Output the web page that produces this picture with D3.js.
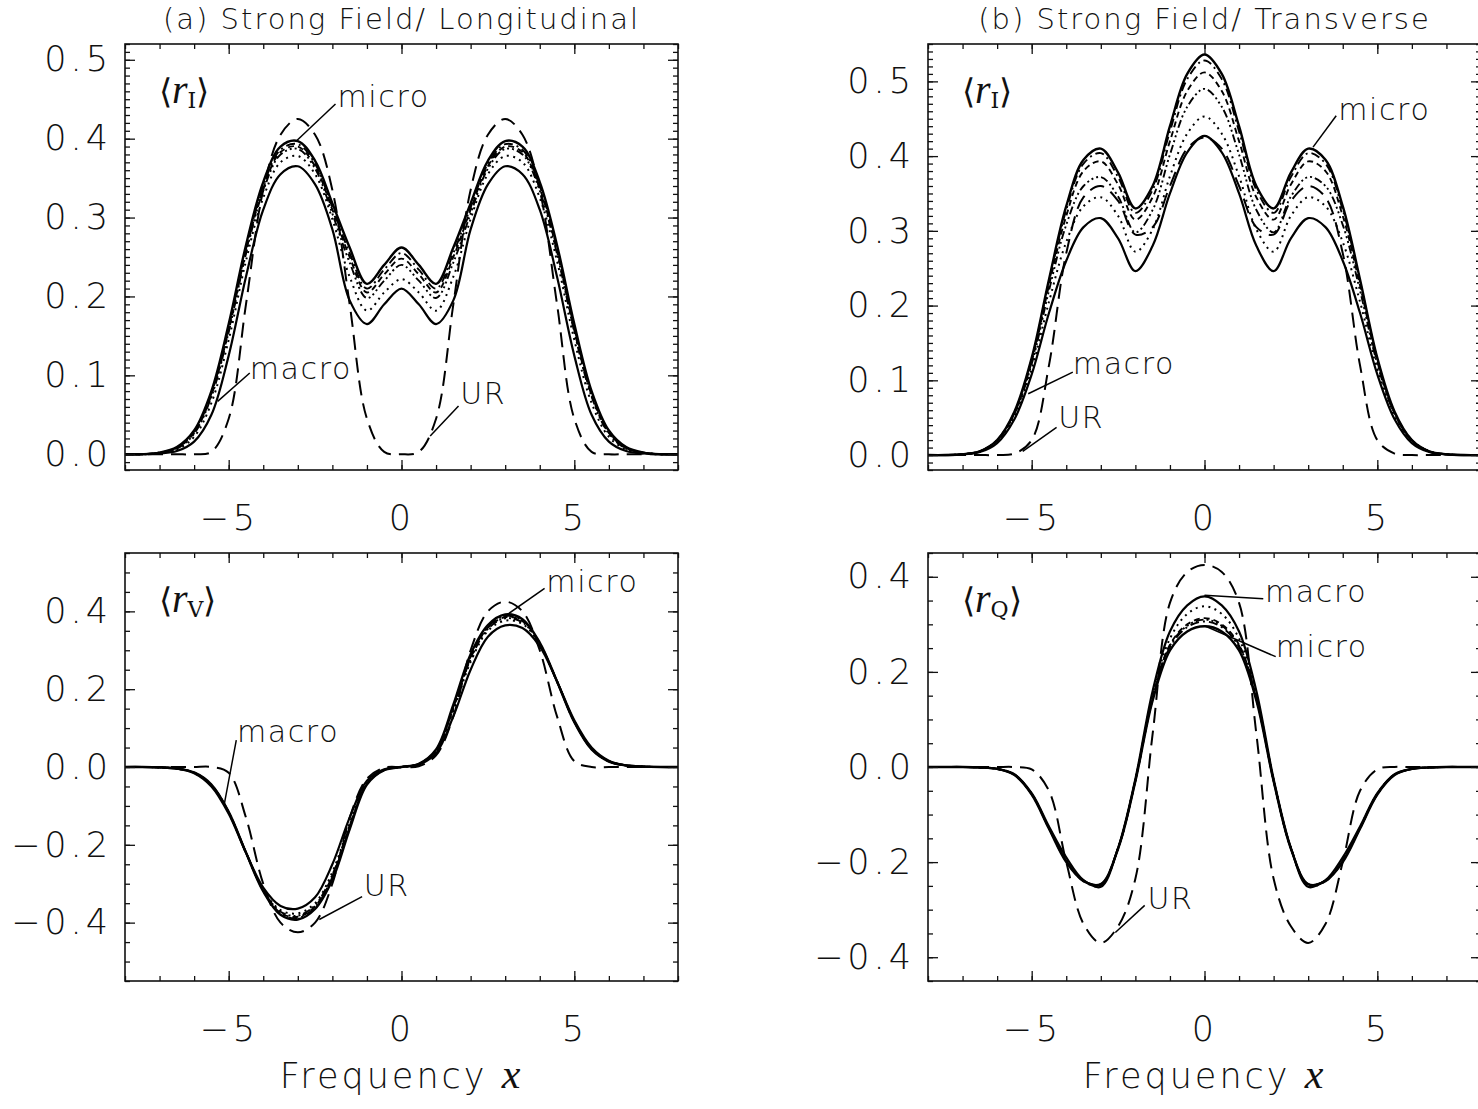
<!DOCTYPE html>
<html>
<head>
<meta charset="utf-8">
<script src="https://cdn.jsdelivr.net/npm/d3@7"></script>
<style>
  body { margin: 0; background: #fff; }
  svg { display: block; }
  .tick text { font-family: "DejaVu Sans", sans-serif; font-weight: 200; font-size: 35px; letter-spacing: 4px; fill: #111; }
  .tick line { stroke: #111; stroke-width: 1.3; }
  .frame { fill: none; stroke: #111; stroke-width: 1.6; }
  .title { font-family: "DejaVu Sans", sans-serif; font-weight: 200; font-size: 29px; letter-spacing: 2px; fill: #111; }
  .note { font-family: "DejaVu Sans", sans-serif; font-weight: 200; font-size: 30px; letter-spacing: 1.6px; fill: #111; }
  .xlab { font-family: "DejaVu Sans", sans-serif; font-weight: 200; font-size: 35px; letter-spacing: 3px; fill: #111; }
</style>
</head>
<body>
<div id="container"></div>
<script>
// frequency grid x
var freq = [-8,-7.5,-7,-6.5,-6,-5.5,-5,-4.5,-4,-3.5,-3,-2.5,-2,-1.5,-1,-0.5,0,0.5,1,1.5,2,2.5,3,3.5,4,4.5,5,5.5,6,6.5,7,7.5,8];

// (a) Strong field / longitudinal, <r_I>
var aUR       = [0,0,0,0,0,0.003,0.045,0.19,0.335,0.405,0.425,0.405,0.335,0.19,0.045,0.003,0,0.003,0.045,0.19,0.335,0.405,0.425,0.405,0.335,0.19,0.045,0.003,0,0,0,0,0];
var aMicro    = [0,0,0.002,0.009,0.03,0.08,0.165,0.265,0.345,0.39,0.397,0.372,0.318,0.262,0.216,0.24,0.262,0.24,0.216,0.262,0.318,0.372,0.397,0.39,0.345,0.265,0.165,0.08,0.03,0.009,0.002,0,0];
var aMacro    = [0,0,0.001,0.004,0.016,0.05,0.125,0.225,0.31,0.355,0.365,0.342,0.285,0.195,0.165,0.19,0.21,0.19,0.165,0.195,0.285,0.342,0.365,0.355,0.31,0.225,0.125,0.05,0.016,0.004,0.001,0,0];
var aDot      = [0,0,0.001,0.006,0.022,0.065,0.145,0.245,0.325,0.37,0.378,0.355,0.298,0.225,0.182,0.205,0.222,0.205,0.182,0.225,0.298,0.355,0.378,0.37,0.325,0.245,0.145,0.065,0.022,0.006,0.001,0,0];
var aDashDot  = [0,0,0.002,0.008,0.028,0.077,0.16,0.26,0.34,0.386,0.393,0.368,0.313,0.255,0.21,0.234,0.255,0.234,0.21,0.255,0.313,0.368,0.393,0.386,0.34,0.26,0.16,0.077,0.028,0.008,0.002,0,0];
var aDash     = [0,0,0.002,0.008,0.027,0.075,0.157,0.257,0.337,0.383,0.39,0.365,0.31,0.25,0.205,0.228,0.248,0.228,0.205,0.25,0.31,0.365,0.39,0.383,0.337,0.257,0.157,0.075,0.027,0.008,0.002,0,0];
var aDash3    = [0,0,0.002,0.007,0.026,0.073,0.155,0.254,0.334,0.38,0.387,0.362,0.305,0.243,0.198,0.22,0.24,0.22,0.198,0.243,0.305,0.362,0.387,0.38,0.334,0.254,0.155,0.073,0.026,0.007,0.002,0,0];

// (b) Strong field / transverse, <r_I>
var bUR       = [0,0,0,0,0,0.002,0.02,0.12,0.27,0.345,0.36,0.34,0.295,0.305,0.36,0.41,0.425,0.41,0.36,0.305,0.295,0.34,0.36,0.345,0.27,0.12,0.02,0.002,0,0,0,0,0];
var bMicro    = [0,0,0.001,0.005,0.02,0.058,0.13,0.235,0.333,0.395,0.41,0.378,0.33,0.36,0.44,0.51,0.536,0.51,0.44,0.36,0.33,0.378,0.41,0.395,0.333,0.235,0.13,0.058,0.02,0.005,0.001,0,0];
var bMacro    = [0,0,0.001,0.004,0.016,0.048,0.108,0.19,0.26,0.305,0.317,0.29,0.246,0.28,0.35,0.405,0.427,0.405,0.35,0.28,0.246,0.29,0.317,0.305,0.26,0.19,0.108,0.048,0.016,0.004,0.001,0,0];
var bDot      = [0,0,0.001,0.005,0.018,0.052,0.115,0.205,0.285,0.333,0.345,0.32,0.272,0.302,0.373,0.43,0.453,0.43,0.373,0.302,0.272,0.32,0.345,0.333,0.285,0.205,0.115,0.052,0.018,0.005,0.001,0,0];
var bDashDot  = [0,0,0.001,0.005,0.02,0.057,0.128,0.232,0.328,0.39,0.404,0.372,0.324,0.355,0.433,0.503,0.528,0.503,0.433,0.355,0.324,0.372,0.404,0.39,0.328,0.232,0.128,0.057,0.02,0.005,0.001,0,0];
var bDash     = [0,0,0.001,0.005,0.019,0.056,0.125,0.227,0.32,0.38,0.393,0.362,0.315,0.345,0.42,0.487,0.512,0.487,0.42,0.345,0.315,0.362,0.393,0.38,0.32,0.227,0.125,0.056,0.019,0.005,0.001,0,0];
var bDash3    = [0,0,0.001,0.005,0.019,0.055,0.122,0.22,0.308,0.36,0.372,0.346,0.298,0.328,0.402,0.466,0.49,0.466,0.402,0.328,0.298,0.346,0.372,0.36,0.308,0.22,0.122,0.055,0.019,0.005,0.001,0,0];

// (c) longitudinal, <r_V>
var cUR       = [0,0,0,0,0,0,-0.015,-0.13,-0.3,-0.4,-0.425,-0.4,-0.3,-0.13,-0.03,-0.002,0,0.002,0.03,0.13,0.3,0.4,0.425,0.4,0.3,0.13,0.015,0,0,0,0,0,0];
var cMicro    = [0,0,-0.001,-0.004,-0.014,-0.045,-0.115,-0.22,-0.32,-0.38,-0.392,-0.365,-0.29,-0.16,-0.045,-0.008,0,0.008,0.045,0.16,0.29,0.365,0.392,0.38,0.32,0.22,0.115,0.045,0.014,0.004,0.001,0,0];
var cMacro    = [0,0,-0.001,-0.004,-0.016,-0.05,-0.12,-0.22,-0.31,-0.357,-0.364,-0.335,-0.25,-0.13,-0.035,-0.006,0,0.006,0.035,0.13,0.25,0.335,0.364,0.357,0.31,0.22,0.12,0.05,0.016,0.004,0.001,0,0];
var cDot      = [0,0,-0.001,-0.004,-0.015,-0.048,-0.118,-0.22,-0.315,-0.368,-0.376,-0.35,-0.27,-0.145,-0.04,-0.007,0,0.007,0.04,0.145,0.27,0.35,0.376,0.368,0.315,0.22,0.118,0.048,0.015,0.004,0.001,0,0];
var cDashDot  = [0,0,-0.001,-0.004,-0.014,-0.046,-0.116,-0.22,-0.318,-0.377,-0.388,-0.36,-0.283,-0.155,-0.043,-0.008,0,0.008,0.043,0.155,0.283,0.36,0.388,0.377,0.318,0.22,0.116,0.046,0.014,0.004,0.001,0,0];
var cDash     = [0,0,-0.001,-0.004,-0.015,-0.047,-0.117,-0.22,-0.317,-0.375,-0.385,-0.358,-0.28,-0.152,-0.042,-0.008,0,0.008,0.042,0.152,0.28,0.358,0.385,0.375,0.317,0.22,0.117,0.047,0.015,0.004,0.001,0,0];
var cDash3    = [0,0,-0.001,-0.004,-0.015,-0.047,-0.117,-0.22,-0.316,-0.372,-0.382,-0.355,-0.277,-0.15,-0.041,-0.007,0,0.007,0.041,0.15,0.277,0.355,0.382,0.372,0.316,0.22,0.117,0.047,0.015,0.004,0.001,0,0];

// (d) transverse, <r_Q>
var dUR       = [0,0,0,0,0,0,-0.005,-0.05,-0.2,-0.33,-0.37,-0.335,-0.235,0.07,0.345,0.41,0.425,0.41,0.345,0.07,-0.235,-0.335,-0.37,-0.33,-0.2,-0.05,-0.005,0,0,0,0,0,0];
var dMacro    = [0,0,0,-0.001,-0.004,-0.015,-0.055,-0.125,-0.19,-0.238,-0.252,-0.17,-0.025,0.16,0.285,0.34,0.359,0.34,0.285,0.16,-0.025,-0.17,-0.252,-0.238,-0.19,-0.125,-0.055,-0.015,-0.004,-0.001,0,0,0];
var dMicro    = [0,0,0,-0.001,-0.004,-0.017,-0.058,-0.13,-0.2,-0.24,-0.246,-0.172,-0.03,0.14,0.245,0.285,0.296,0.285,0.245,0.14,-0.03,-0.172,-0.246,-0.24,-0.2,-0.13,-0.058,-0.017,-0.004,-0.001,0,0,0];
var dDot      = [0,0,0,-0.001,-0.004,-0.016,-0.056,-0.127,-0.195,-0.24,-0.25,-0.17,-0.027,0.152,0.27,0.322,0.338,0.322,0.27,0.152,-0.027,-0.17,-0.25,-0.24,-0.195,-0.127,-0.056,-0.016,-0.004,-0.001,0,0,0];
var dDashDot  = [0,0,0,-0.001,-0.004,-0.016,-0.057,-0.129,-0.198,-0.239,-0.247,-0.171,-0.029,0.143,0.252,0.294,0.306,0.294,0.252,0.143,-0.029,-0.171,-0.247,-0.239,-0.198,-0.129,-0.057,-0.016,-0.004,-0.001,0,0,0];
var dDash     = [0,0,0,-0.001,-0.004,-0.016,-0.057,-0.128,-0.197,-0.239,-0.248,-0.17,-0.028,0.146,0.257,0.3,0.313,0.3,0.257,0.146,-0.028,-0.17,-0.248,-0.239,-0.197,-0.128,-0.057,-0.016,-0.004,-0.001,0,0,0];
var dDash3    = [0,0,0,-0.001,-0.004,-0.016,-0.057,-0.128,-0.197,-0.239,-0.247,-0.171,-0.029,0.144,0.255,0.297,0.31,0.297,0.255,0.144,-0.029,-0.171,-0.247,-0.239,-0.197,-0.128,-0.057,-0.016,-0.004,-0.001,0,0,0];

// tick labels
var xMajor = [-5, 0, 5];
var yMajorAB = [0, 0.1, 0.2, 0.3, 0.4, 0.5];
var yMajorCD = [-0.4, -0.2, 0, 0.2, 0.4];

// annotations: pointer line and label anchor, in data units
var aNotes = [
  {text: "micro", line: [[-3.02, 0.398], [-1.91, 0.444]], at: [-1.85, 0.454]},
  {text: "macro", line: [[-5.32, 0.067], [-4.39, 0.103]], at: [-4.39, 0.109]},
  {text: "UR",    line: [[0.83, 0.023], [1.65, 0.061]],   at: [1.70, 0.077]}
];
var bNotes = [
  {text: "micro", line: [[3.14, 0.412], [3.81, 0.454]],   at: [3.87, 0.462]},
  {text: "macro", line: [[-5.1, 0.082], [-3.81, 0.111]],  at: [-3.81, 0.122]},
  {text: "UR",    line: [[-5.26, 0.005], [-4.28, 0.037]], at: [-4.23, 0.05]}
];
var cNotes = [
  {text: "micro", line: [[2.95, 0.385], [4.14, 0.459]],     at: [4.19, 0.477]},
  {text: "macro", line: [[-5.12, -0.092], [-4.78, 0.069]],  at: [-4.76, 0.09]},
  {text: "UR",    line: [[-2.38, -0.392], [-1.14, -0.333]], at: [-1.09, -0.305]}
];
var dNotes = [
  {text: "macro", line: [[0, 0.361], [1.7, 0.354]],         at: [1.75, 0.369]},
  {text: "micro", line: [[0, 0.297], [2.06, 0.232]],        at: [2.06, 0.253]},
  {text: "UR",    line: [[-2.58, -0.348], [-1.73, -0.291]], at: [-1.65, -0.277]}
];

// line styles (IDL linestyles)
var styles = {
  UR:      {dash: "15,8", w: 2.0},
  micro:   {dash: null, w: 2.4},
  macro:   {dash: null, w: 2.2},
  dot:     {dash: "2,4.5", w: 2.0},
  dashDot: {dash: "9,4,2,4", w: 1.9},
  dash:    {dash: "6,4", w: 1.9},
  dash3:   {dash: "8,3,2,3,2,3,2,3", w: 1.9}
};

var panels = [
  {left: 125, top: 44, width: 553, height: 426, yDomain: [-0.02, 0.52], yMajor: yMajorAB, yMinor: d3.range(-2, 53).map(function(i){ return i / 100; }),
   sub: "I", title: "(a) Strong Field/ Longitudinal", notes: aNotes,
   series: {UR: aUR, micro: aMicro, macro: aMacro, dot: aDot, dashDot: aDashDot, dash: aDash, dash3: aDash3}},
  {left: 928, top: 44, width: 553, height: 426, yDomain: [-0.02, 0.55], yMajor: yMajorAB, yMinor: d3.range(-2, 56).map(function(i){ return i / 100; }),
   sub: "I", title: "(b) Strong Field/ Transverse", notes: bNotes,
   series: {UR: bUR, micro: bMicro, macro: bMacro, dot: bDot, dashDot: bDashDot, dash: bDash, dash3: bDash3}},
  {left: 125, top: 553, width: 553, height: 428, yDomain: [-0.55, 0.55], yMajor: yMajorCD, yMinor: d3.range(-11, 12).map(function(i){ return i * 0.05; }),
   sub: "V", title: null, notes: cNotes, xlabel: true,
   series: {UR: cUR, micro: cMicro, macro: cMacro, dot: cDot, dashDot: cDashDot, dash: cDash, dash3: cDash3}},
  {left: 928, top: 553, width: 553, height: 428, yDomain: [-0.45, 0.45], yMajor: yMajorCD, yMinor: d3.range(-9, 10).map(function(i){ return i * 0.05; }),
   sub: "Q", title: null, notes: dNotes, xlabel: true,
   series: {UR: dUR, micro: dMicro, macro: dMacro, dot: dDot, dashDot: dDashDot, dash: dDash, dash3: dDash3}}
];

var svg = d3.select("#container")
  .append("svg")
  .attr("width", 1478)
  .attr("height", 1109);

var fmt = function(d) { return d3.format(".1f")(d).replace("-", "\u2212"); };
var fmtX = function(d) { return String(d).replace("-", "\u2212"); };
var xMinor = d3.range(-8, 9);

panels.forEach(function(p) {
  var g = svg.append("g").attr("transform", "translate(" + p.left + "," + p.top + ")");

  var x = d3.scaleLinear().domain([-8, 8]).range([0, p.width]);
  var y = d3.scaleLinear().domain(p.yDomain).range([p.height, 0]);

  // curves
  var line = d3.line()
    .x(function(d) { return x(d[0]); })
    .y(function(d) { return y(d[1]); })
    .curve(d3.curveCatmullRom.alpha(0.5));

  Object.keys(p.series).forEach(function(k) {
    var vals = p.series[k];
    g.append("path")
      .datum(freq.map(function(f, i) { return [f, vals[i]]; }))
      .attr("d", line)
      .attr("fill", "none")
      .attr("stroke", "#000")
      .attr("stroke-width", styles[k].w)
      .attr("stroke-dasharray", styles[k].dash);
  });

  // axes: inward ticks on all four sides
  var bottom = g.append("g").attr("transform", "translate(0," + p.height + ")");
  bottom.call(d3.axisBottom(x).tickValues(xMinor).tickSize(-5).tickFormat(""));
  bottom.append("g").call(d3.axisBottom(x).tickValues(xMajor).tickSize(-10).tickPadding(35).tickFormat(fmtX));
  g.append("g").call(d3.axisTop(x).tickValues(xMinor).tickSize(-5).tickFormat(""));
  g.append("g").call(d3.axisTop(x).tickValues(xMajor).tickSize(-10).tickFormat(""));

  g.append("g").call(d3.axisLeft(y).tickValues(p.yMinor).tickSize(-5).tickFormat(""));
  g.append("g").call(d3.axisLeft(y).tickValues(p.yMajor).tickSize(-10).tickPadding(13).tickFormat(fmt));
  var right = g.append("g").attr("transform", "translate(" + p.width + ",0)");
  right.call(d3.axisRight(y).tickValues(p.yMinor).tickSize(-5).tickFormat(""));
  right.append("g").call(d3.axisRight(y).tickValues(p.yMajor).tickSize(-10).tickFormat(""));

  g.selectAll(".domain").remove();
  g.selectAll(".tick text").attr("font-family", null).attr("font-size", null);

  g.append("rect").attr("class", "frame").attr("width", p.width).attr("height", p.height);

  // panel quantity label <r_X>
  var lab = g.append("text")
    .attr("x", 34)
    .attr("y", 59)
    .style("font-family", "'DejaVu Serif', serif")
    .style("font-size", "34px")
    .style("fill", "#111");
  lab.append("tspan").text("\u27E8").style("font-family", "'DejaVu Sans'").style("font-weight", 200);
  lab.append("tspan").text("r").style("font-style", "italic").style("font-family", "'Liberation Serif', serif").style("font-size", "40px");
  lab.append("tspan").text(p.sub).attr("dy", 5).style("font-size", "22px");
  lab.append("tspan").text("\u27E9").attr("dy", -5).style("font-family", "'DejaVu Sans'").style("font-weight", 200);

  // annotations
  p.notes.forEach(function(n) {
    g.append("line")
      .attr("x1", x(n.line[0][0])).attr("y1", y(n.line[0][1]))
      .attr("x2", x(n.line[1][0])).attr("y2", y(n.line[1][1]))
      .attr("stroke", "#000").attr("stroke-width", 1.5);
    g.append("text")
      .attr("class", "note")
      .attr("x", x(n.at[0]))
      .attr("y", y(n.at[1]))
      .attr("dy", "0.35em")
      .text(n.text);
  });

  if (p.title) {
    svg.append("text")
      .attr("class", "title")
      .attr("x", p.left + p.width / 2)
      .attr("y", 29)
      .attr("text-anchor", "middle")
      .text(p.title);
  }
  if (p.xlabel) {
    var t = svg.append("text")
      .attr("class", "xlab")
      .attr("x", p.left + p.width / 2)
      .attr("y", 1088)
      .attr("text-anchor", "middle");
    t.append("tspan").text("Frequency ");
    t.append("tspan").text("x").style("font-family", "'Liberation Serif', serif").style("font-style", "italic").style("font-size", "42px").style("font-weight", 400);
  }
});
</script>
</body>
</html>
